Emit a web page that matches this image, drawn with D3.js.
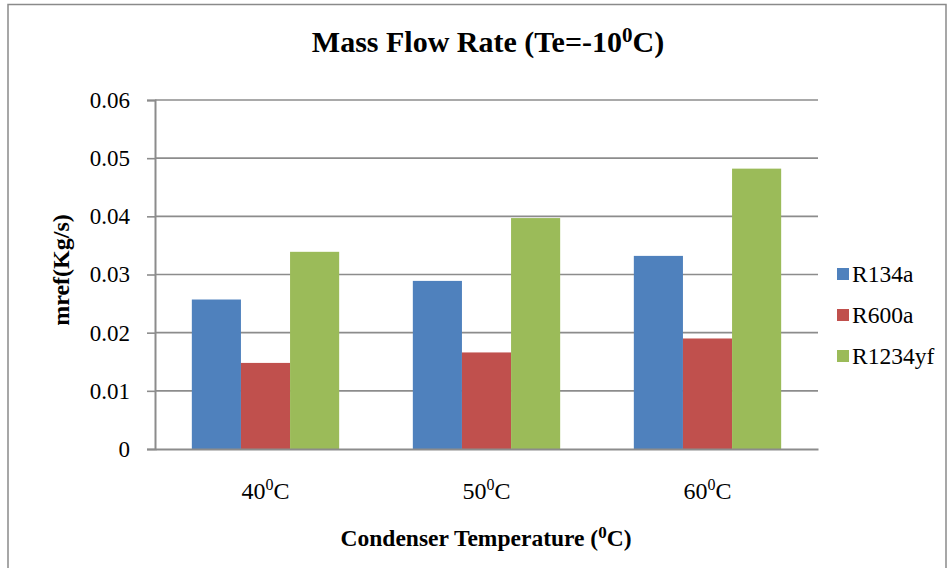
<!DOCTYPE html>
<html>
<head>
<meta charset="utf-8">
<script src="https://cdn.jsdelivr.net/npm/d3@7"></script>
<style>
  html, body { margin: 0; padding: 0; background: #fff; }
  svg text { font-family: "Liberation Serif", "Times New Roman", serif; fill: #000; }
</style>
</head>
<body>
<svg id="chart" width="950" height="568"></svg>
<script>
// Condenser temperatures (category labels: number + superscript 0 + C)
const categories = ["40", "50", "60"];
const seriesNames = ["R134a", "R600a", "R1234yf"];
const seriesColors = ["#4F81BD", "#C0504D", "#9BBB59"];
// Mass flow rate, kg/s, per refrigerant at each condenser temperature
const r134a = [0.0257, 0.0289, 0.0332];
const r600a = [0.0148, 0.0166, 0.0190];
const r1234yf = [0.0339, 0.0397, 0.0482];
const yTicks = [0, 0.01, 0.02, 0.03, 0.04, 0.05, 0.06];
const yTickLabels = ["0", "0.01", "0.02", "0.03", "0.04", "0.05", "0.06"];

const seriesValues = [r134a, r600a, r1234yf];

const svg = d3.select("#chart");
const plot = { left: 155, right: 818, top: 100, bottom: 449 };

// outer chart frame
svg.append("rect")
  .attr("x", 8).attr("y", 4.5)
  .attr("width", 938).attr("height", 580)
  .attr("fill", "none").attr("stroke", "#8a8a8a").attr("stroke-width", 1.5);

const x0 = d3.scaleBand().domain(categories).range([plot.left, plot.right]).paddingInner(0).paddingOuter(0);
// three bars side by side, 150% gap between groups
const barW = x0.bandwidth() / 4.5;
const x1 = d3.scaleBand().domain(seriesNames).range([0, barW * 3]);
const y = d3.scaleLinear().domain([0, 0.06]).range([plot.bottom, plot.top]);

// gridlines
svg.append("g").selectAll("line").data(yTicks.slice(1)).join("line")
  .attr("x1", plot.left).attr("x2", plot.right)
  .attr("y1", d => y(d)).attr("y2", d => y(d))
  .attr("stroke", "#8c8c8c").attr("stroke-width", 1.6);

// bars
const groups = svg.append("g").selectAll("g").data(categories).join("g")
  .attr("transform", d => `translate(${x0(d) + x0.bandwidth() / 2 - barW * 1.5},0)`);
groups.selectAll("rect")
  .data((c, i) => seriesNames.map((s, k) => ({ s, k, v: seriesValues[k][i] })))
  .join("rect")
  .attr("x", d => x1(d.s))
  .attr("width", x1.bandwidth())
  .attr("y", d => y(d.v))
  .attr("height", d => y(0) - y(d.v))
  .attr("fill", d => seriesColors[d.k]);

// y axis
const yAxis = d3.axisLeft(y).tickValues(yTicks)
  .tickFormat((d, i) => yTickLabels[i]).tickSize(8).tickPadding(17);
const yg = svg.append("g").attr("transform", `translate(${plot.left},0)`).call(yAxis);
yg.select(".domain").attr("stroke", "#8c8c8c").attr("stroke-width", 2);
yg.selectAll(".tick line").attr("stroke", "#8c8c8c").attr("stroke-width", 1.6);
yg.selectAll(".tick text")
  .style("font-family", "'Liberation Serif', serif").style("font-size", "23px").attr("fill", "#000");

// x axis baseline
const xAxis = d3.axisBottom(x0).tickSize(0).tickFormat("");
const xg = svg.append("g").attr("transform", `translate(0,${plot.bottom})`).call(xAxis);
xg.select(".domain").attr("stroke", "#8c8c8c").attr("stroke-width", 2.2);

// category labels with superscript degree marker
const xl = svg.append("g").selectAll("text").data(categories).join("text")
  .attr("x", d => x0(d) + x0.bandwidth() / 2)
  .attr("y", 499)
  .attr("text-anchor", "middle")
  .style("font-size", "24px");
xl.append("tspan").text(d => d);
xl.append("tspan").text("0").attr("dy", -9).style("font-size", "16px");
xl.append("tspan").text("C").attr("dy", 9);

// title
const t = svg.append("text").attr("x", 488).attr("y", 52)
  .attr("text-anchor", "middle").style("font-size", "30px").style("font-weight", "bold");
t.append("tspan").text("Mass Flow Rate (Te=-10");
t.append("tspan").text("0").attr("dy", -10).style("font-size", "21px");
t.append("tspan").text("C)").attr("dy", 10);

// x axis title
const xt = svg.append("text").attr("x", 486).attr("y", 546)
  .attr("text-anchor", "middle").style("font-size", "23.5px").style("font-weight", "bold");
xt.append("tspan").text("Condenser Temperature (");
xt.append("tspan").text("0").attr("dy", -8).style("font-size", "17px");
xt.append("tspan").text("C)").attr("dy", 8);

// y axis title
svg.append("text")
  .attr("transform", "translate(69,270) rotate(-90)")
  .attr("text-anchor", "middle")
  .style("font-size", "24px").style("font-weight", "bold")
  .text("mref(Kg/s)");

// legend
const lg = svg.append("g").selectAll("g").data(seriesNames).join("g")
  .attr("transform", (d, i) => `translate(837,${274 + i * 41})`);
lg.append("rect").attr("x", 0).attr("y", -6).attr("width", 12).attr("height", 12)
  .attr("fill", (d, i) => seriesColors[i]);
lg.append("text").attr("x", 15).attr("y", 8).style("font-size", "23.5px").text(d => d);
</script>
</body>
</html>
